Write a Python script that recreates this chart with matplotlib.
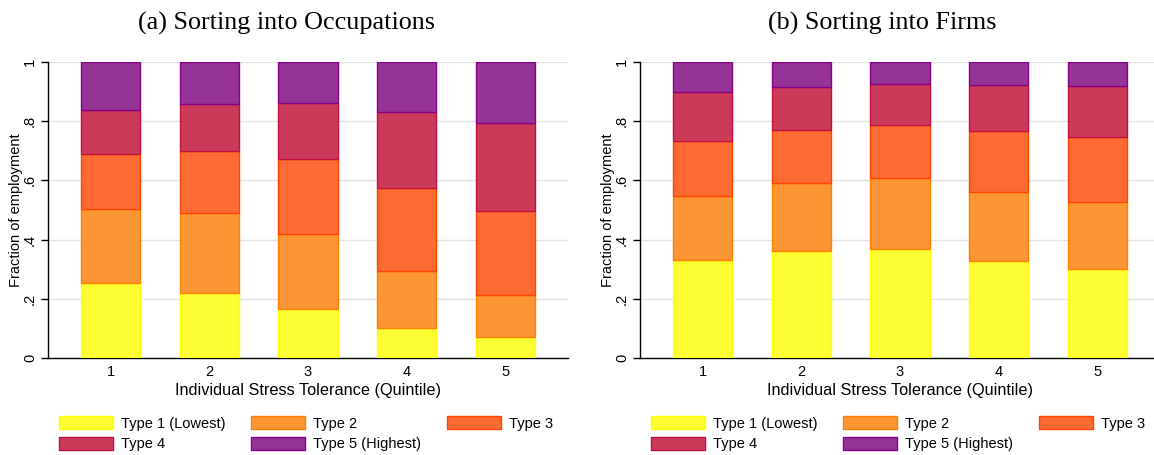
"""Stacked employment shares by stress-tolerance quintile, two panels."""

import matplotlib
matplotlib.use("Agg")
import matplotlib.pyplot as plt
import numpy as np
from matplotlib.patches import Patch

QUINTILES = [1, 2, 3, 4, 5]
TYPE_LABELS = ["Type 1 (Lowest)", "Type 2", "Type 3", "Type 4",
               "Type 5 (Highest)"]

# Share of employment by worker type within each quintile (rows = types).
OCC_TYPE1 = [0.255, 0.221, 0.164, 0.102, 0.072]
OCC_TYPE2 = [0.250, 0.270, 0.256, 0.193, 0.142]
OCC_TYPE3 = [0.183, 0.209, 0.251, 0.280, 0.281]
OCC_TYPE4 = [0.151, 0.159, 0.190, 0.257, 0.300]
OCC_TYPE5 = [0.161, 0.141, 0.139, 0.168, 0.205]

FIRM_TYPE1 = [0.330, 0.363, 0.369, 0.327, 0.300]
FIRM_TYPE2 = [0.216, 0.229, 0.239, 0.235, 0.227]
FIRM_TYPE3 = [0.188, 0.177, 0.180, 0.204, 0.220]
FIRM_TYPE4 = [0.166, 0.147, 0.139, 0.156, 0.173]
FIRM_TYPE5 = [0.100, 0.084, 0.073, 0.078, 0.080]

Y_TICKS = [0, 0.2, 0.4, 0.6, 0.8, 1.0]
Y_TICK_LABELS = ["0", ".2", ".4", ".6", ".8", "1"]

FILL = ["#FDFD33", "#FC9534", "#FD6A33", "#CC3A5A", "#963396"]
EDGE = ["#FFFF00", "#FF8000", "#FF4500", "#C4103E", "#860088"]

W, H = 1154, 455
SANS = ["Liberation Sans", "DejaVu Sans"]
SERIF = ["Liberation Serif", "DejaVu Serif"]


def draw_panel(fig, left_px, shares, title, title_x_px):
    ax = fig.add_axes([left_px / W, 1 - 358 / H, 520 / W, 296 / H])
    x = np.array(QUINTILES)
    bottom = np.zeros(len(x))
    for k, values in enumerate(shares):
        ax.bar(x, values, 0.6, bottom=bottom, color=FILL[k],
               edgecolor=EDGE[k], linewidth=1.0, zorder=3)
        bottom += np.array(values)

    ax.set_xlim(0.365, 5.635)
    ax.set_ylim(0, 1)
    ax.set_yticks(Y_TICKS)
    ax.set_yticklabels(Y_TICK_LABELS, rotation=90, va="center",
                       family=SANS, fontsize=10.5)
    ax.set_xticks(x)
    ax.set_xticklabels([str(q) for q in QUINTILES], family=SANS,
                       fontsize=10.5)
    ax.tick_params(axis="x", length=0, pad=5)
    ax.tick_params(axis="y", length=5, width=1, pad=3)
    ax.grid(True, axis="y", color="#E3E3E3", linewidth=1.0, zorder=0)
    for side in ("top", "right"):
        ax.spines[side].set_visible(False)
    for side in ("left", "bottom"):
        ax.spines[side].set_linewidth(1.0)
    ax.set_ylabel("Fraction of employment", family=SANS, fontsize=10.5,
                  labelpad=0)
    ax.set_xlabel("Individual Stress Tolerance (Quintile)", family=SANS,
                  fontsize=11.7, labelpad=3)

    fig.text(title_x_px / W, 1 - 23 / H, title, family=SERIF,
             fontsize=18.8, ha="center", va="center")

    handles = [Patch(facecolor=FILL[k], edgecolor=EDGE[k], linewidth=1.0)
               for k in range(len(TYPE_LABELS))]
    order = [0, 3, 1, 4, 2]
    fig.legend([handles[i] for i in order], [TYPE_LABELS[i] for i in order],
               ncol=3, loc="upper left",
               bbox_to_anchor=((left_px + 11) / W, 1 - 416 / H),
               frameon=False, borderpad=0, borderaxespad=0,
               handlelength=3.7, handleheight=1.0, handletextpad=0.55,
               columnspacing=1.77, labelspacing=0.44,
               prop={"family": SANS, "size": 10.5})
    return ax


def main() -> None:
    fig = plt.figure(figsize=(W / 100, H / 100), dpi=100)
    occ = [OCC_TYPE1, OCC_TYPE2, OCC_TYPE3, OCC_TYPE4, OCC_TYPE5]
    firm = [FIRM_TYPE1, FIRM_TYPE2, FIRM_TYPE3, FIRM_TYPE4, FIRM_TYPE5]
    draw_panel(fig, 48, occ, "(a) Sorting into Occupations", 287)
    draw_panel(fig, 640, firm, "(b) Sorting into Firms", 882)
    fig.savefig("out.png", dpi=100)
    plt.close(fig)


if __name__ == "__main__":
    main()
